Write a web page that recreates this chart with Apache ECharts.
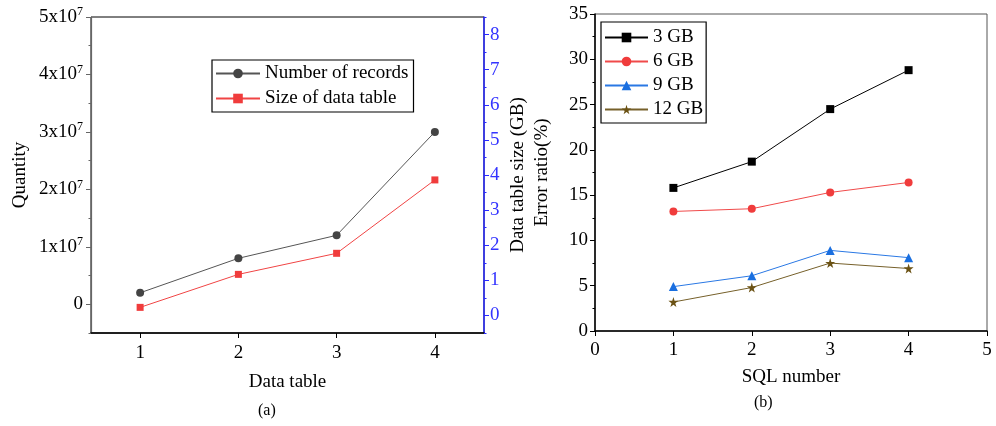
<!DOCTYPE html>
<html>
<head>
<meta charset="utf-8">
<script src="https://cdn.jsdelivr.net/npm/echarts@6/dist/echarts.min.js"></script>
<style>
  html, body { margin: 0; padding: 0; background: #fff; }
  #chart { width: 996px; height: 426px; }
</style>
</head>
<body>
<div id="chart"></div>
<script>
// (a) data tables
const tableIds = [1, 2, 3, 4]
const recordCounts = [2e6, 8e6, 1.2e7, 3.0e7]
const tableSizeGB = [0.23, 1.17, 1.77, 3.86]
const quantityLabels = [0, 1e7, 2e7, 3e7, 4e7, 5e7]
const sizeLabels = [0, 1, 2, 3, 4, 5, 6, 7, 8]

// (b) error ratio per SQL
const sqlIds = [1, 2, 3, 4]
const err3GB = [15.8, 18.7, 24.5, 28.8]
const err6GB = [13.2, 13.5, 15.3, 16.4]
const err9GB = [4.9, 6.1, 8.9, 8.1]
const err12GB = [3.2, 4.8, 7.5, 6.9]

const FONT = 'Liberation Serif'
const STAR = 'path://M50,0 L61,35 L98,35 L68,57 L79,91 L50,70 L21,91 L32,57 L2,35 L39,35 Z'

function pairs(xs, ys) {
  return xs.map((x, i) => [x, ys[i]])
}

const chart = echarts.init(document.getElementById('chart'))

const labelStyle = { fontFamily: FONT, fontSize: 19, color: '#000' }
const nameStyle = { fontFamily: FONT, fontSize: 19, color: '#000' }

chart.setOption({
  animation: false,
  grid: [
    { left: 91, top: 17, width: 393, height: 316, show: true, borderColor: '#000', borderWidth: 1 },
    { left: 595, top: 14, width: 392, height: 317, show: true, borderColor: '#555', borderWidth: 1 }
  ],
  graphic: [
    { type: 'text', left: 258, top: 403, style: { text: '(a)', font: '16px "Liberation Serif"', fill: '#000' } },
    { type: 'text', left: 754, top: 395, style: { text: '(b)', font: '16px "Liberation Serif"', fill: '#000' } }
  ],
  legend: [
    {
      data: ['Number of records', 'Size of data table'],
      orient: 'vertical',
      left: 212, top: 60,
      itemWidth: 44, itemHeight: 12, itemGap: 6,
      padding: [4, 5, 4, 3],
      borderColor: '#000', borderWidth: 1.2,
      textStyle: { fontFamily: FONT, fontSize: 19, color: '#000' }
    },
    {
      data: ['3 GB', '6 GB', '9 GB', '12 GB'],
      orient: 'vertical',
      left: 601, top: 22,
      itemWidth: 43, itemHeight: 12, itemGap: 5,
      padding: [6, 3, 4, 3],
      borderColor: '#000', borderWidth: 1.2,
      textStyle: { fontFamily: FONT, fontSize: 19, color: '#000' }
    }
  ],
  xAxis: [
    {
      type: 'value', gridIndex: 0, min: 0.5, max: 4.5,
      name: 'Data table', nameLocation: 'middle', nameGap: 40, nameTextStyle: nameStyle,
      splitLine: { show: false },
      axisLine: { onZero: false, lineStyle: { color: '#000', width: 1.5 } },
      axisTick: { customValues: tableIds, length: 5, lineStyle: { color: '#000' } },
      axisLabel: { customValues: tableIds, margin: 11, ...labelStyle }
    },
    {
      type: 'value', gridIndex: 1, min: 0, max: 5, interval: 1,
      name: 'SQL number', nameLocation: 'middle', nameGap: 37, nameTextStyle: nameStyle,
      splitLine: { show: false },
      axisLine: { onZero: false, lineStyle: { color: '#000', width: 1.5 } },
      axisTick: { length: 5, lineStyle: { color: '#000' } },
      axisLabel: { margin: 10, ...labelStyle }
    }
  ],
  yAxis: [
    {
      type: 'value', gridIndex: 0, position: 'left', min: -5e6, max: 5e7, interval: 5e6,
      name: 'Quantity', nameLocation: 'middle', nameGap: 61, nameTextStyle: nameStyle,
      splitLine: { show: false },
      axisLine: { show: true, onZero: false, lineStyle: { color: '#666', width: 1.2 } },
      axisTick: { length: 2.5, lineStyle: { color: '#666' } },
      axisLabel: {
        customValues: quantityLabels, margin: 8,
        formatter: v => v === 0 ? '{b|0}' : '{b|' + Math.round(v / 1e7) + 'x10}{s|7}',
        rich: {
          b: { fontFamily: FONT, fontSize: 19, color: '#000', lineHeight: 22 },
          s: { fontFamily: FONT, fontSize: 12, color: '#000', lineHeight: 12, padding: [0, 0, 10, 0] }
        }
      }
    },
    {
      type: 'value', gridIndex: 0, position: 'left', min: -5e6, max: 5e7,
      axisLine: { show: false, onZero: false }, splitLine: { show: false }, axisLabel: { show: false },
      axisTick: { customValues: quantityLabels, length: 5, lineStyle: { color: '#666' } }
    },
    {
      type: 'value', gridIndex: 0, position: 'right', min: -0.5, max: 8.5, interval: 0.5,
      name: 'Data table size (GB)', nameLocation: 'middle', nameGap: 25, nameRotate: 90,
      nameTextStyle: nameStyle,
      splitLine: { show: false },
      axisLine: { show: true, onZero: false, lineStyle: { color: '#2a2aff', width: 1.5 } },
      axisTick: { length: 2.5, lineStyle: { color: '#2a2aff' } },
      axisLabel: { customValues: sizeLabels, margin: 6, fontFamily: FONT, fontSize: 19, color: '#3434ff' }
    },
    {
      type: 'value', gridIndex: 0, position: 'right', min: -0.5, max: 8.5,
      axisLine: { show: false, onZero: false }, splitLine: { show: false }, axisLabel: { show: false },
      axisTick: { customValues: sizeLabels, length: 5, lineStyle: { color: '#2a2aff' } }
    },
    {
      type: 'value', gridIndex: 1, min: 0, max: 35, interval: 5,
      name: 'Error ratio(%)', nameLocation: 'middle', nameGap: 43, nameTextStyle: nameStyle,
      splitLine: { show: false },
      axisLine: { show: true, onZero: false, lineStyle: { color: '#000', width: 1.5 } },
      axisTick: { length: 5, lineStyle: { color: '#000' } },
      minorTick: { show: true, splitNumber: 2, length: 2.5, lineStyle: { color: '#000' } },
      axisLabel: { margin: 7, ...labelStyle }
    }
  ],
  series: [
    {
      name: 'Number of records', type: 'line', xAxisIndex: 0, yAxisIndex: 0,
      data: pairs(tableIds, recordCounts),
      symbol: 'circle', symbolSize: 8,
      itemStyle: { color: '#444' }, lineStyle: { color: '#555', width: 1 }
    },
    {
      name: 'Size of data table', type: 'line', xAxisIndex: 0, yAxisIndex: 2,
      data: pairs(tableIds, tableSizeGB),
      symbol: 'rect', symbolSize: 7,
      itemStyle: { color: '#f03c3c' }, lineStyle: { color: '#f04444', width: 1 }
    },
    {
      name: '3 GB', type: 'line', xAxisIndex: 1, yAxisIndex: 4,
      data: pairs(sqlIds, err3GB),
      symbol: 'rect', symbolSize: 8,
      itemStyle: { color: '#000' }, lineStyle: { color: '#000', width: 1 }
    },
    {
      name: '6 GB', type: 'line', xAxisIndex: 1, yAxisIndex: 4,
      data: pairs(sqlIds, err6GB),
      symbol: 'circle', symbolSize: 8,
      itemStyle: { color: '#f03c3c' }, lineStyle: { color: '#f04a4a', width: 1 }
    },
    {
      name: '9 GB', type: 'line', xAxisIndex: 1, yAxisIndex: 4,
      data: pairs(sqlIds, err9GB),
      symbol: 'triangle', symbolSize: 9,
      itemStyle: { color: '#1a6fe0' }, lineStyle: { color: '#2a78e4', width: 1 }
    },
    {
      name: '12 GB', type: 'line', xAxisIndex: 1, yAxisIndex: 4,
      data: pairs(sqlIds, err12GB),
      symbol: STAR, symbolSize: 10,
      itemStyle: { color: '#6b5214' }, lineStyle: { color: '#76602a', width: 1 }
    }
  ]
})
</script>
</body>
</html>
